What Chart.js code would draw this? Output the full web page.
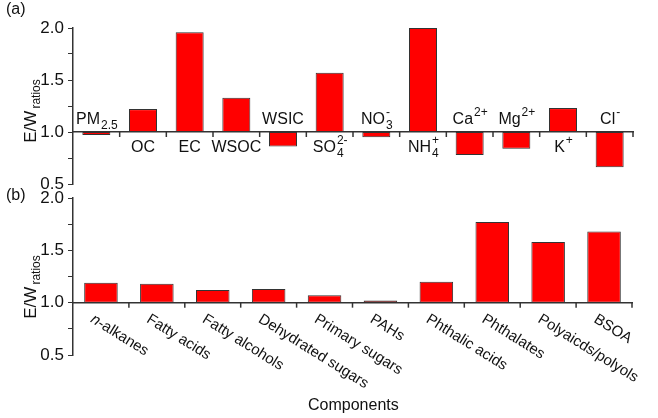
<!DOCTYPE html>
<html>
<head>
<meta charset="utf-8">
<script src="https://cdn.jsdelivr.net/npm/chart.js@4.4.0/dist/chart.umd.min.js"></script>
<style>
  body { margin: 0; background: #fff; }
  #wrap { position: relative; width: 658px; height: 418px; font-family: "Liberation Sans", Arial, sans-serif; }
  canvas { position: absolute; left: 0; }
  #top { top: 0; }
  #bot { top: 180px; }
  .txt { position: absolute; font-size: 16px; color: #111; }
</style>
</head>
<body>
<div id="wrap">
  <canvas id="bot" width="658" height="238"></canvas>
  <canvas id="top" width="658" height="200"></canvas>
  <div class="txt" style="left:6px;top:0px;">(a)</div>
  <div class="txt" style="left:6px;top:186px;">(b)</div>
  <div class="txt" style="left:308px;top:396px;">Components</div>
</div>
<script>
// panel (a): bulk components, [main, subscript, superscript]
const topLabels = [
  ['PM', '2.5', ''], ['OC', '', ''], ['EC', '', ''], ['WSOC', '', ''],
  ['WSIC', '', ''], ['SO', '4', '2-'], ['NO', '3', '-'], ['NH', '4', '+'],
  ['Ca', '', '2+'], ['Mg', '', '2+'], ['K', '', '+'], ['Cl', '', '-']
];
const topValues = [0.97, 1.22, 1.96, 1.33, 0.86, 1.57, 0.95, 2.0, 0.78, 0.84, 1.23, 0.66];

// panel (b): organic species
const botLabels = ['n-alkanes', 'Fatty acids', 'Fatty alcohols', 'Dehydrated sugars',
  'Primary sugars', 'PAHs', 'Phthalic acids', 'Phthalates', 'Polyaicds/polyols', 'BSOA'];
const botValues = [1.19, 1.18, 1.12, 1.13, 1.07, 1.02, 1.20, 1.77, 1.58, 1.68];

const yTicks = [0.5, 1.0, 1.5, 2.0];
const FONT = '"Liberation Sans", Arial, sans-serif';
const AXIS = '#333';

function yTitle(ctx, cy) {
  ctx.save();
  ctx.translate(36, cy);
  ctx.rotate(-Math.PI / 2);
  ctx.fillStyle = '#111';
  ctx.textBaseline = 'alphabetic';
  ctx.font = '17px ' + FONT;
  const w1 = ctx.measureText('E/W').width;
  ctx.font = '12px ' + FONT;
  const w2 = ctx.measureText('ratios').width;
  const x0 = -(w1 + w2 + 2) / 2;
  ctx.font = '17px ' + FONT;
  ctx.fillText('E/W', x0, 0);
  ctx.font = '12px ' + FONT;
  ctx.fillText('ratios', x0 + w1 + 2, 4);
  ctx.restore();
}

function drawRich(ctx, parts, cx, y) {
  const [main, sub, sup] = parts;
  ctx.font = '16px ' + FONT;
  const wm = ctx.measureText(main).width;
  ctx.font = '12px ' + FONT;
  const ws = Math.max(ctx.measureText(sub).width, ctx.measureText(sup).width);
  let x = cx - (wm + ws) / 2;
  ctx.font = '16px ' + FONT;
  ctx.fillText(main, x, y);
  x += wm + 1;
  ctx.font = '12px ' + FONT;
  if (sub) ctx.fillText(sub, x, y + 5);
  if (sup) ctx.fillText(sup, x, y - 8);
}

// small tick marks between categories on the x axis
function xTicks(chart) {
  const ctx = chart.ctx;
  const xs = chart.scales.x, ys = chart.scales.y;
  const base = ys.getPixelForValue(1);
  const n = chart.data.labels.length;
  ctx.save();
  ctx.strokeStyle = AXIS;
  ctx.lineWidth = 1.5;
  for (let i = 0; i < n; i++) {
    const x = xs.getPixelForValue(i) + (xs.getPixelForValue(1) - xs.getPixelForValue(0)) / 2;
    ctx.beginPath();
    ctx.moveTo(x, base);
    ctx.lineTo(x, base + 5);
    ctx.stroke();
  }
  ctx.restore();
}

const topPlugin = {
  id: 'topText',
  afterDraw(chart) {
    const ctx = chart.ctx;
    const xs = chart.scales.x, ys = chart.scales.y;
    const base = ys.getPixelForValue(1);
    xTicks(chart);
    ctx.save();
    ctx.fillStyle = '#111';
    ctx.textBaseline = 'alphabetic';
    topLabels.forEach((p, i) => {
      const cx = xs.getPixelForValue(i);
      const y = topValues[i] < 1 ? base - 8 : base + 20;
      drawRich(ctx, p, cx, y);
    });
    ctx.restore();
    yTitle(ctx, 111);
  }
};

const botPlugin = {
  id: 'botText',
  afterDraw(chart) {
    const ctx = chart.ctx;
    const xs = chart.scales.x, ys = chart.scales.y;
    const base = ys.getPixelForValue(1);
    xTicks(chart);
    ctx.save();
    ctx.fillStyle = '#111';
    ctx.textBaseline = 'top';
    botLabels.forEach((t, i) => {
      ctx.save();
      ctx.translate(xs.getPixelForValue(i) - 5, base + 9);
      ctx.rotate(32 * Math.PI / 180);
      if (t.startsWith('n-')) {
        ctx.font = 'italic 15px ' + FONT;
        ctx.fillText('n', 0, 0);
        const w = ctx.measureText('n').width;
        ctx.font = '15px ' + FONT;
        ctx.fillText(t.slice(1), w, 0);
      } else {
        ctx.font = '15px ' + FONT;
        ctx.fillText(t, 0, 0);
      }
      ctx.restore();
    });
    ctx.restore();
    yTitle(ctx, 107);
  }
};

function makeChart(id, labels, values, pad, plugin) {
  return new Chart(document.getElementById(id), {
    type: 'bar',
    data: {
      labels: labels.map(String),
      datasets: [{
        data: values.map(v => [1, v]),
        backgroundColor: '#ff0000',
        borderColor: '#333',
        borderWidth: 1,
        borderSkipped: false,
        categoryPercentage: 0.6,
        barPercentage: 1
      }]
    },
    options: {
      responsive: false,
      animation: false,
      layout: { padding: pad },
      plugins: { legend: { display: false }, tooltip: { enabled: false } },
      scales: {
        x: {
          position: { y: 1 },
          ticks: { display: false },
          grid: { display: false },
          border: { color: AXIS, width: 1.5 }
        },
        y: {
          min: 0.5, max: 2.0,
          afterFit(s) { s.width = 73; },
          afterBuildTicks(s) {
            s.ticks = [0.5, 0.75, 1.0, 1.25, 1.5, 1.75, 2.0].map(v => ({ value: v }));
          },
          ticks: {
            color: '#111',
            padding: 4,
            font: { size: 17, family: FONT },
            callback: v => yTicks.includes(v) ? v.toFixed(1) : ''
          },
          grid: { drawOnChartArea: false, tickLength: 5, color: AXIS },
          border: { color: AXIS, width: 1.5 }
        }
      }
    },
    plugins: [plugin]
  });
}

makeChart('top', topLabels.map(p => p[0]), topValues, { left: 0, right: 25, top: 28, bottom: 16 }, topPlugin);
makeChart('bot', botLabels, botValues, { left: 0, right: 26, top: 18, bottom: 63 }, botPlugin);
</script>
</body>
</html>
